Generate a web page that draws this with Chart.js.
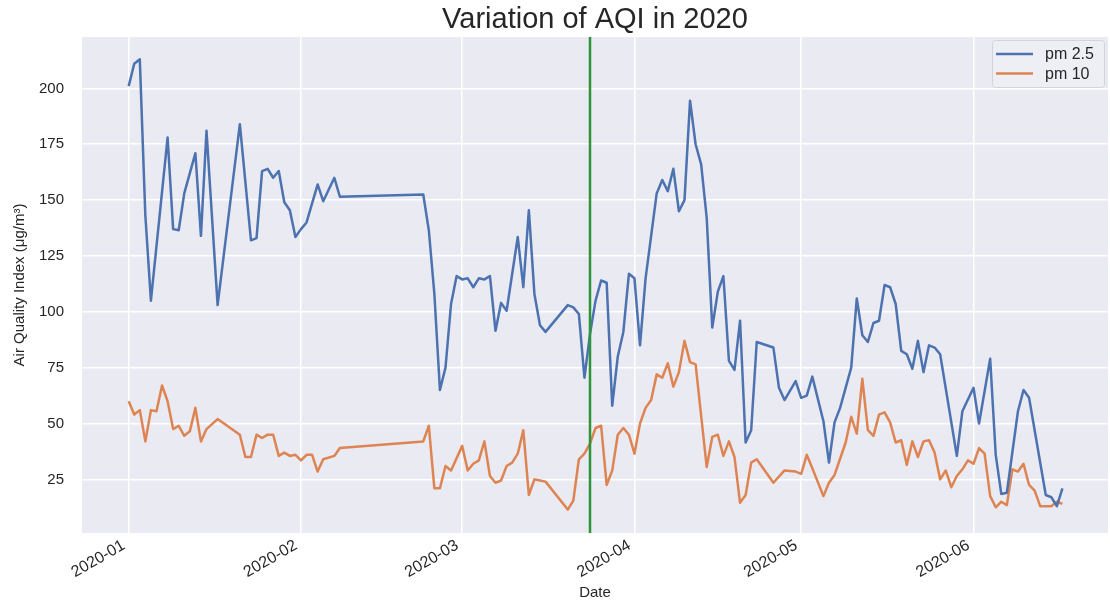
<!DOCTYPE html>
<html>
<head>
<meta charset="utf-8">
<title>Variation of AQI in 2020</title>
<script src="https://cdn.jsdelivr.net/npm/chart.js@4.4.1/dist/chart.umd.min.js"></script>
<style>
  html, body { margin: 0; padding: 0; background: #ffffff; }
  #wrap { width: 1110px; height: 602px; }
</style>
</head>
<body>
<div id="wrap"><canvas id="aqiChart" width="1110" height="602"></canvas></div>
<script>
// days counted from 2020-01-01
const pm25Day = [0, 1, 2, 3, 4, 7, 8, 9, 10, 12, 13, 14, 16, 20, 22, 23, 24, 25, 26, 27, 28, 29, 30, 31, 32, 34, 35, 37, 38,
  53, 54, 55, 56, 57, 58, 59, 60, 61, 62, 63, 64, 65, 66, 67, 68, 70, 71, 72, 73, 74, 75, 79, 80, 81, 82, 83, 84, 85, 86,
  87, 88, 89, 90, 91, 92, 93, 95, 96, 97, 98, 99, 100, 101, 102, 103, 104, 105, 106, 107, 108, 109, 110, 111, 112, 113,
  116, 117, 118, 120, 121, 122, 123, 125, 126, 127, 128, 130, 131, 132, 133, 134, 135, 136, 137, 138, 139, 140, 141, 142,
  143, 144, 145, 146, 149, 150, 152, 153, 155, 156, 157, 158, 160, 161, 162, 165, 166, 167, 168];
const pm25 = [201, 211, 213, 143, 105, 178, 137, 136.5, 153, 171, 134, 181, 103, 184, 132, 133, 163, 164, 160, 163, 149, 145.5, 133.5, 137, 140, 157, 149.5, 160, 151.5,
  152.5, 136.5, 108, 65, 75, 103.5, 116, 114.5, 115, 111, 115, 114.5, 116, 91.5, 104, 100.5, 133.5, 111, 145.5, 108, 94, 91, 103, 102, 99, 70.5, 90, 105, 114, 113,
  58, 80, 91, 117, 115, 85, 115, 153, 159, 154, 164, 145, 150, 194.5, 175, 166, 142, 93, 109, 116, 78, 74, 96, 41.5, 47, 86.5,
  84, 66, 60.5, 69, 61.5, 62.5, 71, 51, 32.5, 50.5, 57, 75, 106, 89.5, 86.5, 95, 96, 112, 111, 103.5, 82.5, 81, 74.5, 87,
  73, 85, 84, 81, 35.5, 55.5, 66, 50, 79, 36, 18.5, 19, 55.5, 65, 61.5, 18, 17, 13, 21];

const pm10Day = [0, 1, 2, 3, 4, 5, 6, 7, 8, 9, 10, 11, 12, 13, 14, 16, 20, 21, 22, 23, 24, 25, 26, 27, 28, 29, 30, 31, 32, 33, 34, 35, 37, 38,
  53, 54, 55, 56, 57, 58, 60, 61, 62, 63, 64, 65, 66, 67, 68, 69, 70, 71, 72, 73, 74, 75, 79, 80, 81, 82, 83, 84, 85, 86,
  87, 88, 89, 90, 91, 92, 93, 94, 95, 96, 97, 98, 99, 100, 101, 102, 104, 105, 106, 107, 108, 109, 110, 111, 112, 113,
  116, 118, 120, 121, 122, 123, 125, 126, 127, 129, 130, 131, 132, 133, 134, 135, 136, 137, 138, 139, 140, 141, 142,
  143, 144, 145, 146, 147, 148, 149, 150, 151, 152, 153, 154, 155, 156, 157, 158, 159, 160, 161, 162, 163, 164, 166, 167, 168];
const pm10 = [60, 54, 56, 42, 56, 55.5, 67, 60, 47.5, 49, 44.5, 46.5, 57, 42, 47.5, 52, 45, 35, 35, 45, 43.5, 45, 45, 35.5, 37, 35.5, 36, 33.5, 36, 36, 28.5, 34, 35.5, 39,
  42, 49, 21, 21, 31, 29, 40, 29, 32, 33.5, 42, 26.5, 23.5, 24.5, 31, 32.5, 36.5, 47, 18, 25, 24.5, 24, 11.5, 15.5, 34, 36.5, 41, 48, 49, 22.5,
  29, 45, 48, 45, 36.5, 50, 57, 60.5, 72, 70.5, 77, 66.5, 73, 87, 77.5, 76.5, 30.5, 44, 45, 35.5, 42, 35, 14.5, 18, 32.5, 34,
  23.5, 29, 28.5, 27.5, 36, 30, 17.5, 23.5, 27, 41.5, 53, 45.5, 70, 47, 44.5, 54, 55, 50.5, 41.5, 42.5, 31.5, 42, 35,
  42, 42.5, 37, 25, 29, 21.5, 26.5, 29.5, 33.5, 32, 39, 36.5, 17.5, 12.5, 15, 13.5, 29.5, 28.5, 32, 22.5, 20, 13, 13, 15, 14];

const monthDays = [0, 31, 60, 91, 121, 152];
const monthLabels = ['2020-01', '2020-02', '2020-03', '2020-04', '2020-05', '2020-06'];
const yTickValues = [25, 50, 75, 100, 125, 150, 175, 200];
const lockdownDay = 83;

const textColor = '#262626';
const fontFamily = '"Liberation Sans", Arial, sans-serif';

document.addEventListener('DOMContentLoaded', function() {
    const ctx = document.getElementById('aqiChart').getContext('2d');

    function toPoints(days, values) {
        return days.map((d, i) => ({ x: d, y: values[i] }));
    }

    // seaborn darkgrid background
    const bgPlugin = {
        id: 'bg',
        beforeDraw(chart) {
            const { ctx, chartArea: a } = chart;
            ctx.save();
            ctx.fillStyle = '#EAEAF2';
            ctx.fillRect(a.left, a.top, a.right - a.left, a.bottom - a.top);
            ctx.restore();
        }
    };

    const extrasPlugin = {
        id: 'extras',
        afterDatasetsDraw(chart) {
            const { ctx, chartArea: a, scales } = chart;
            const x = scales.x.getPixelForValue(lockdownDay);
            ctx.save();
            ctx.strokeStyle = '#2e9438';
            ctx.lineWidth = 2.5;
            ctx.beginPath();
            ctx.moveTo(x, a.top);
            ctx.lineTo(x, a.bottom);
            ctx.stroke();
            ctx.restore();
        },
        afterDraw(chart) {
            const { ctx, chartArea: a } = chart;
            ctx.save();
            // title
            ctx.fillStyle = textColor;
            ctx.font = '29px ' + fontFamily;
            ctx.textAlign = 'center';
            ctx.textBaseline = 'middle';
            ctx.fillText('Variation of AQI in 2020', (a.left + a.right) / 2, 20);

            // legend box
            const bx = a.right - 116, by = a.top + 3, bw = 112, bh = 47;
            ctx.fillStyle = 'rgba(238, 238, 245, 0.9)';
            ctx.strokeStyle = '#d3d3dc';
            ctx.lineWidth = 1;
            ctx.beginPath();
            ctx.roundRect(bx + 0.5, by + 0.5, bw, bh, 3);
            ctx.fill();
            ctx.stroke();
            ctx.font = '16px ' + fontFamily;
            ctx.textAlign = 'left';
            chart.data.datasets.forEach((ds, i) => {
                const ly = by + 14 + i * 19.5;
                ctx.strokeStyle = ds.borderColor;
                ctx.lineWidth = 2.5;
                ctx.beginPath();
                ctx.moveTo(bx + 4, ly);
                ctx.lineTo(bx + 41, ly);
                ctx.stroke();
                ctx.fillStyle = textColor;
                ctx.fillText(ds.label, bx + 53, ly + 1);
            });
            ctx.restore();
        }
    };

    new Chart(ctx, {
        type: 'line',
        data: {
            datasets: [{
                label: 'pm 2.5',
                data: toPoints(pm25Day, pm25),
                borderColor: '#4C72B0',
                borderWidth: 2.5,
                borderJoinStyle: 'round',
                pointRadius: 0,
                tension: 0
            }, {
                label: 'pm 10',
                data: toPoints(pm10Day, pm10),
                borderColor: '#DD8452',
                borderWidth: 2.5,
                borderJoinStyle: 'round',
                pointRadius: 0,
                tension: 0
            }]
        },
        options: {
            responsive: false,
            animation: false,
            devicePixelRatio: 1,
            layout: { padding: { top: 37, right: 2, left: 0, bottom: 0 } },
            plugins: {
                legend: { display: false },
                title: { display: false },
                tooltip: { enabled: false }
            },
            events: [],
            scales: {
                x: {
                    type: 'linear',
                    min: -8.4,
                    max: 176.2,
                    afterBuildTicks: function(scale) {
                        scale.ticks = monthDays.map(v => ({ value: v }));
                    },
                    afterFit: function(scale) { scale.height = 69; },
                    grid: { color: '#ffffff', lineWidth: 1.5, drawTicks: false },
                    border: { display: false },
                    ticks: {
                        color: textColor,
                        font: { size: 16, family: fontFamily },
                        minRotation: 30,
                        maxRotation: 30,
                        autoSkip: false,
                        padding: 3,
                        labelOffset: -5,
                        callback: function(value) {
                            return monthLabels[monthDays.indexOf(value)];
                        }
                    },
                    title: {
                        display: true,
                        text: 'Date',
                        color: textColor,
                        font: { size: 15, family: fontFamily },
                        padding: { top: 0, bottom: 0 }
                    }
                },
                y: {
                    min: 1,
                    max: 223,
                    afterBuildTicks: function(scale) {
                        scale.ticks = yTickValues.map(v => ({ value: v }));
                    },
                    afterFit: function(scale) { scale.width = 82; },
                    grid: { color: '#ffffff', lineWidth: 1.5, drawTicks: false },
                    border: { display: false },
                    ticks: {
                        color: textColor,
                        font: { size: 15, family: fontFamily },
                        padding: 18
                    },
                    title: {
                        display: true,
                        text: 'Air Quality Index (μg/m³)',
                        color: textColor,
                        font: { size: 15, family: fontFamily },
                        padding: { top: 11, bottom: 0 }
                    }
                }
            }
        },
        plugins: [bgPlugin, extrasPlugin]
    });
});
</script>
</body>
</html>
